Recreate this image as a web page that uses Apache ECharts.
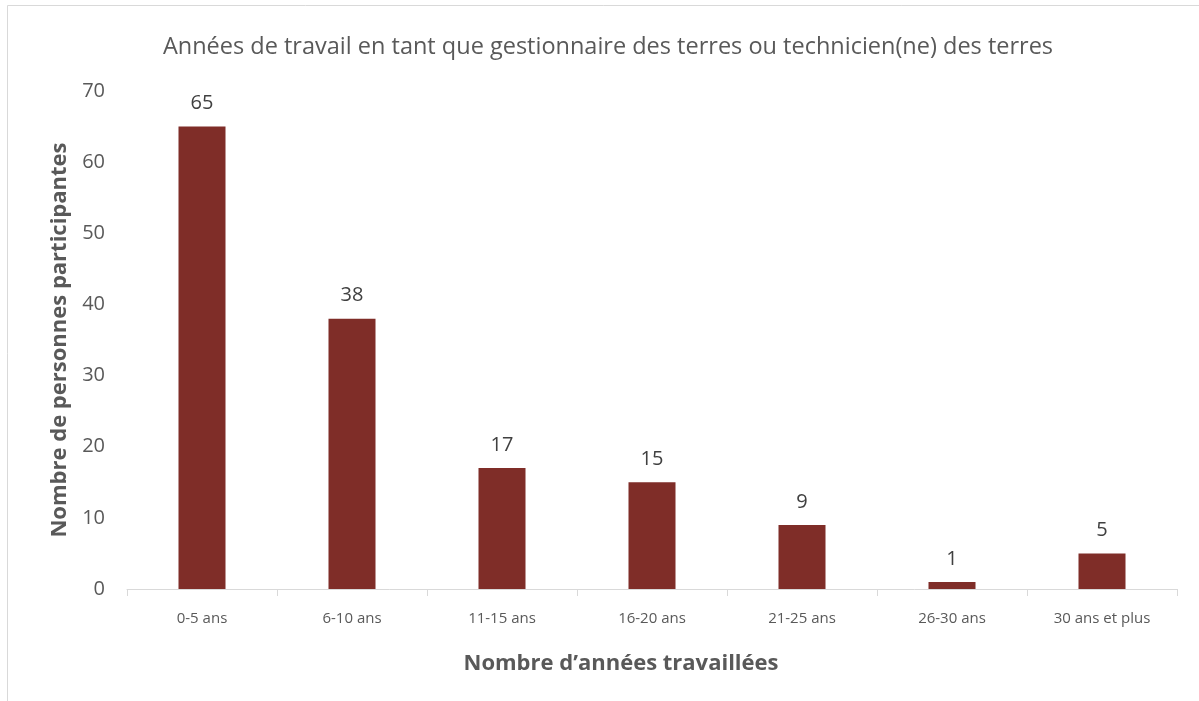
<!DOCTYPE html>
<html>
<head>
<meta charset="utf-8">
<script src="https://cdn.jsdelivr.net/npm/echarts@6/dist/echarts.min.js"></script>
<style>
html,body{margin:0;padding:0;background:#fff;}
#main{width:1199px;height:701px;}
</style>
</head>
<body>
<div id="main"></div>
<script>
var categories = ['0-5 ans', '6-10 ans', '11-15 ans', '16-20 ans', '21-25 ans', '26-30 ans', '30 ans et plus'];
var values = [65, 38, 17, 15, 9, 1, 5];
var yTicks = [0, 10, 20, 30, 40, 50, 60, 70];

var font = '"Open Sans", sans-serif';

var myChart = echarts.init(document.getElementById('main'));
var option = {
	backgroundColor: '#fff',
	animation: false,
	title: {
		text: 'Années de travail en tant que gestionnaire des terres ou technicien(ne) des terres',
		left: 603,
		top: 30,
		textAlign: 'center',
		textStyle: {fontFamily: font, fontSize: 23.5, fontWeight: 'normal', color: '#595959'}
	},
	graphic: [
		{type: 'line', shape: {x1: 7.5, y1: 5.5, x2: 1199, y2: 5.5}, style: {stroke: '#d9d9d9', lineWidth: 1}},
		{type: 'line', shape: {x1: 7.5, y1: 5.5, x2: 7.5, y2: 701}, style: {stroke: '#d9d9d9', lineWidth: 1}}
	],
	grid: {left: 127, right: 22, top: 91, bottom: 112},
	xAxis: {
		type: 'category',
		data: categories,
		name: 'Nombre d’années travaillées',
		nameLocation: 'middle',
		nameGap: 64,
		nameTextStyle: {fontFamily: font, fontSize: 22, fontWeight: 'bold', color: '#595959', padding: [0, 62, 0, 0]},
		axisLine: {lineStyle: {color: '#d9d9d9', width: 1}},
		axisTick: {show: true, length: 7, lineStyle: {color: '#d9d9d9'}},
		axisLabel: {fontFamily: font, fontSize: 15, color: '#595959', margin: 22}
	},
	yAxis: {
		type: 'value',
		min: yTicks[0],
		max: yTicks[yTicks.length - 1],
		interval: 10,
		name: 'Nombre de personnes participantes',
		nameLocation: 'middle',
		nameGap: 55,
		nameTextStyle: {fontFamily: font, fontSize: 22, fontWeight: 'bold', color: '#595959'},
		axisLine: {show: false},
		axisTick: {show: false},
		splitLine: {show: false},
		axisLabel: {fontFamily: font, fontSize: 20, color: '#595959', margin: 22}
	},
	series: [{
		type: 'bar',
		data: values,
		barWidth: 47,
		itemStyle: {color: '#7f2d28'},
		label: {show: true, position: 'top', distance: 13, fontFamily: font, fontSize: 20, color: '#404040'}
	}]
};
myChart.setOption(option);
</script>
</body>
</html>
